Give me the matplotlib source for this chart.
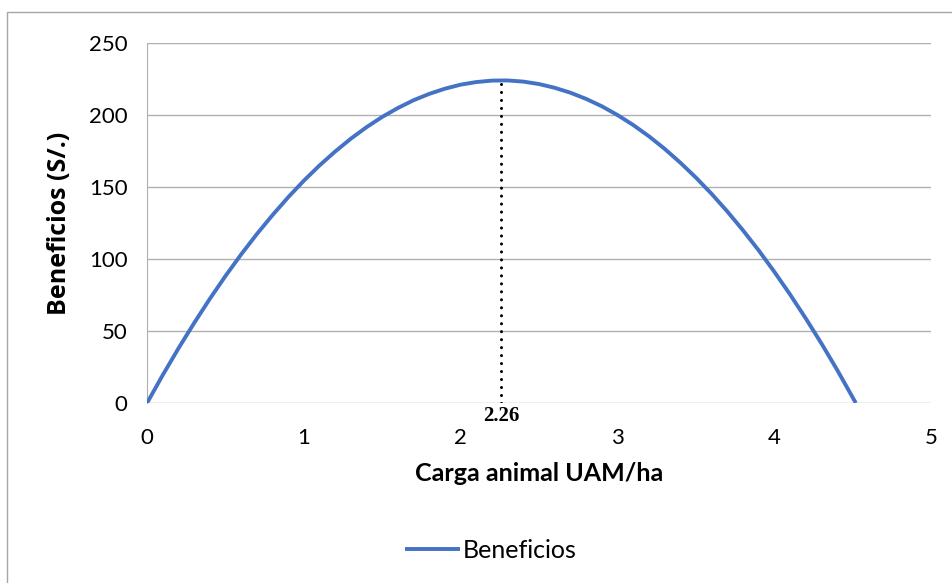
import matplotlib.pyplot as plt
from matplotlib.patches import Rectangle

# Values
carga = [0.0, 0.1, 0.2, 0.3, 0.4, 0.5, 0.6, 0.7, 0.8, 0.9,
         1.0, 1.1, 1.2, 1.3, 1.4, 1.5, 1.6, 1.7, 1.8, 1.9,
         2.0, 2.1, 2.2, 2.26, 2.3, 2.4, 2.5, 2.6, 2.7, 2.8, 2.9,
         3.0, 3.1, 3.2, 3.3, 3.4, 3.5, 3.6, 3.7, 3.8, 3.9,
         4.0, 4.1, 4.2, 4.3, 4.4, 4.52]
beneficios = [0, 19.4, 37.9, 55.5, 72.3, 88.2, 103.2, 117.3, 130.5, 142.9,
              154.4, 165.0, 174.7, 183.6, 191.6, 198.7, 204.9, 210.3, 214.7, 218.3,
              221.1, 222.9, 223.9, 224.0, 224.0, 223.2, 221.5, 218.9, 215.5, 211.2, 206.1,
              200.0, 193.1, 185.3, 176.6, 167.0, 156.6, 145.3, 133.1, 120.0, 106.1,
              91.2, 75.5, 58.9, 41.5, 23.2, 0]
optimo_x = 2.26
optimo_y = 224.0

plt.rcParams["font.family"] = ["Lato", "DejaVu Sans"]

fig = plt.figure(figsize=(9.53, 5.83), dpi=100)
ax = fig.add_axes([0.1543, 0.3087, 0.8227, 0.6175])

# outer chart frame
fig.patches.append(Rectangle((7 / 953, -0.1), 1.2, 1 - 12 / 583 + 0.1,
                             transform=fig.transFigure, fill=False,
                             edgecolor="#a6a6a6", linewidth=1.0))

ax.plot(carga, beneficios, color="#4472c4", linewidth=2.8, label="Beneficios",
        solid_capstyle="butt", solid_joinstyle="round", zorder=3)
ax.plot([optimo_x, optimo_x], [0, optimo_y], color="black", linewidth=2.2,
        linestyle=(0, (0.01, 2.6)), dash_capstyle="round", zorder=4)
ax.text(optimo_x, -2, "2.26", ha="center", va="top", fontsize=15,
        fontweight="bold", family="Liberation Serif")

ax.set_xlim(0, 5)
ax.set_ylim(0, 250)
ax.set_xticks([0, 1, 2, 3, 4, 5])
ax.set_yticks([0, 50, 100, 150, 200, 250])
ax.grid(axis="y", color="#b0b0b0", linewidth=1.0)
ax.set_axisbelow(True)
for side in ["top", "right", "bottom"]:
    ax.spines[side].set_visible(False)
ax.spines["left"].set_color("#b0b0b0")
ax.tick_params(length=0, labelsize=16)
ax.tick_params(axis="x", pad=18)
ax.tick_params(axis="y", pad=14)

ax.set_xlabel("Carga animal UAM/ha", fontsize=18, fontweight="bold", labelpad=10)
ax.set_ylabel("Beneficios (S/.)", fontsize=18, fontweight="bold", labelpad=12,
              family="Open Sans")

fig.legend(loc="center", bbox_to_anchor=(0.515, 0.056), frameon=False,
           fontsize=18, handlelength=2.2, handletextpad=0.1)

fig.savefig("out.png", dpi=100)
